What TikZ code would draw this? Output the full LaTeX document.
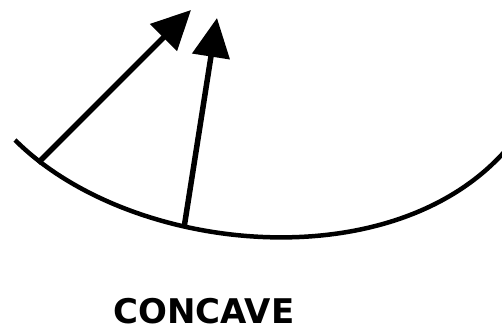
\documentclass[tikz,border=0pt]{standalone}
\usepackage{fontspec}
\setsansfont{DejaVu Sans}
\usepackage{tikz}
\usetikzlibrary{arrows.meta}

\begin{document}
\begin{tikzpicture}[
    x=1pt, y=-1pt,
    >={Triangle[length=39pt,width=37pt]},
    surface/.style={draw=black, line width=4.5pt},
    ray/.style={->, draw=black, line width=5.5pt},
    caption/.style={font=\sffamily\bfseries\fontsize{34}{40}\selectfont, inner sep=0pt}
]
\useasboundingbox (0,0) rectangle (502,331);
\clip (0,0) rectangle (502,331);

% curved surface
\draw[surface] (15,140) .. controls (129,254) and (391,281) .. (506,150);

\coordinate (foot1) at (38,163);
\coordinate (tip1) at (191,10);
\coordinate (foot2) at (184,228);
\coordinate (tip2) at (217,18);

\draw[ray] (foot1) -- (tip1);
\draw[ray] (foot2) -- (tip2);

\node[caption, anchor=base] (label) at (204,323) {CONCAVE};
\end{tikzpicture}
\end{document}
